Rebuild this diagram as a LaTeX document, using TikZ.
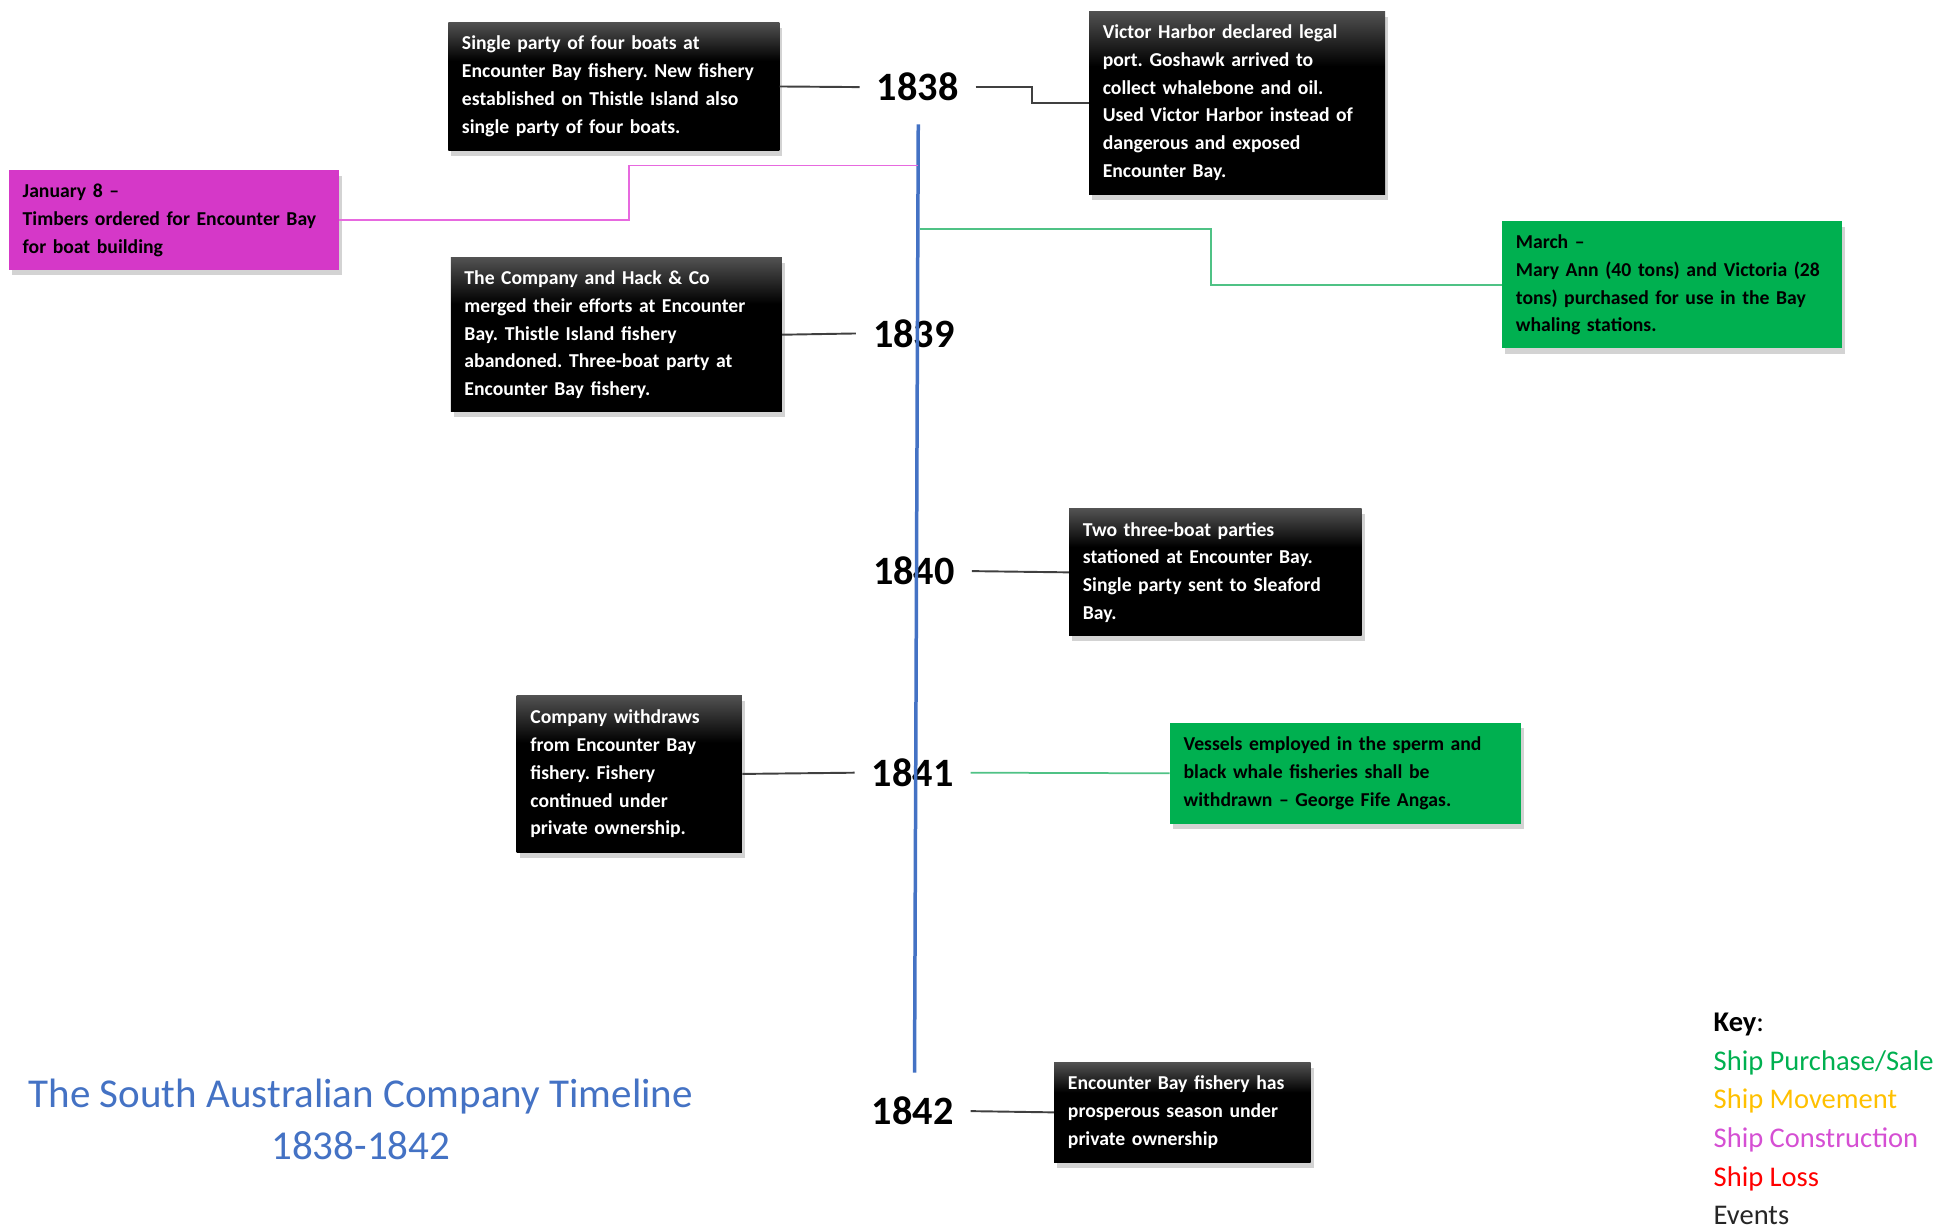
\documentclass[tikz,border=0pt]{standalone}
\usepackage{fontspec}
\setmainfont{Carlito}
\usetikzlibrary{positioning,calc,shadows}
\definecolor{tlblue}{HTML}{4472C4}
\definecolor{shipgreen}{HTML}{00B050}
\definecolor{greenline}{HTML}{4FC285}
\definecolor{shipmagenta}{HTML}{D538C8}
\definecolor{magentaline}{HTML}{E769DF}
\definecolor{shipyellow}{HTML}{FFC000}
\definecolor{keymagenta}{HTML}{D54FD3}
\definecolor{linegray}{HTML}{404040}
\colorlet{boxtop}{black!68}
\pgfdeclareverticalshading{eventshade}{100bp}{color(0bp)=(black); color(25bp)=(black); color(60bp)=(black); color(75bp)=(boxtop); color(100bp)=(boxtop)}
\tikzstyle{box}=[rectangle, align=left, anchor=west, inner xsep=2.75mm, inner ysep=0pt, font=\bfseries\fontsize{11.25}{15.9}\selectfont, drop shadow={shadow xshift=0.6mm, shadow yshift=-1.1mm, opacity=0.35}]
\tikzstyle{event}=[box, shading=eventshade, text=white]
\tikzstyle{purchase}=[box, fill=shipgreen, text=black]
\tikzstyle{construction}=[box, fill=shipmagenta, text=black]
\tikzstyle{year}=[inner xsep=3.4mm, inner ysep=1mm, font=\bfseries\fontsize{23}{26}\selectfont]
\tikzstyle{connect}=[draw=linegray, line width=1.1pt]
\tikzstyle{purchaseline}=[draw=greenline, line width=1pt]
\tikzstyle{constructionline}=[draw=magentaline, line width=1pt]

\begin{document}
\frenchspacing
\hyphenpenalty=10000
\begin{tikzpicture}[x=0.25mm, y=-0.25mm]
  \useasboundingbox (0,0) rectangle (1568,990);
  % years on the timeline
  \node[year] (y1838) at (737.5,70) {1838};
  \node[year] (y1839) at (734.5,268) {1839};
  \node[year] (y1840) at (734.5,459) {1840};
  \node[year] (y1841) at (733.5,621) {1841};
  \node[year] (y1842) at (733.5,893) {1842};
  \coordinate (tltop) at (738,100);
  \coordinate (tlbot) at (735,862);
  \draw[tlblue, line width=2pt] (tltop) -- (tlbot);
  \coordinate (tjan) at (738,133);
  \coordinate (tmarch) at (739,184);

  % event boxes
  \node[event, text width=61mm, minimum height=25.75mm] (single) at (360,69.5) {Single party of four boats at\\Encounter Bay fishery. New fishery\\established on Thistle Island also\\single party of four boats.};
  \node[event, text width=54mm, minimum height=36.75mm] (victor) at (875,82.5) {Victor Harbor declared legal\\port. Goshawk arrived to\\collect whalebone and oil.\\Used Victor Harbor instead of\\dangerous and exposed\\Encounter Bay.};
  \node[construction, text width=60.75mm, minimum height=20mm] (jan) at (7,177) {January 8 –\\Timbers ordered for Encounter Bay\\for boat building};
  \node[event, text width=61mm, minimum height=31mm] (merged) at (362,269) {The Company and Hack \& Co\\merged their efforts at Encounter\\Bay. Thistle Island fishery\\abandoned. Three-boat party at\\Encounter Bay fishery.};
  \node[purchase, text width=62.75mm, minimum height=25.5mm] (march) at (1207,229) {March –\\Mary Ann (40 tons) and Victoria (28\\tons) purchased for use in the Bay\\whaling stations.};
  \node[event, text width=53.25mm, minimum height=25.5mm] (parties) at (859,460) {Two three-boat parties\\stationed at Encounter Bay.\\Single party sent to Sleaford\\Bay.};
  \node[event, text width=39.75mm, minimum height=31.5mm] (withdraw) at (415,622) {Company withdraws\\from Encounter Bay\\fishery. Fishery\\continued under\\private ownership.};
  \node[purchase, text width=65mm, minimum height=20.25mm] (vessels) at (940,621.5) {Vessels employed in the sperm and\\black whale fisheries shall be\\withdrawn – George Fife Angas.};
  \node[event, text width=46mm, minimum height=20mm] (season) at (847,894) {Encounter Bay fishery has\\prosperous season under\\private ownership};

  % connectors
  \path (single.east) edge [connect] (y1838.west)
        (merged.east) edge [connect] (y1839.west)
        (y1840.east) edge [connect] (parties.west)
        (withdraw.east) edge [connect] (y1841.west)
        (y1841.east) edge [purchaseline] (vessels.west)
        (y1842.east) edge [connect] (season.west);
  \draw[connect] (y1838.east) -| ($(y1838.east)!0.5!(victor.west)$) |- (victor.west);
  \draw[constructionline] (tjan) -| ($(tjan)!0.5!(jan.east)$) |- (jan.east);
  \draw[purchaseline] (tmarch) -| ($(tmarch)!0.5!(march.west)$) |- (march.west);

  % title and key
  \node[anchor=north, align=center, inner sep=0pt, text=tlblue, font=\fontsize{23.45}{29.6}\selectfont] (title) at (290,867) {The South Australian Company Timeline\\1838-1842};
  \node[anchor=north west, align=left, inner sep=0pt, font=\fontsize{16.3}{22.1}\selectfont] (key) at (1377,814) {\textbf{Key}:\\\textcolor{shipgreen}{Ship Purchase/Sale}\\\textcolor{shipyellow}{Ship Movement}\\\textcolor{keymagenta}{Ship Construction}\\\textcolor{red}{Ship Loss}\\\textcolor{black!85}{Events}};
\end{tikzpicture}
\end{document}
